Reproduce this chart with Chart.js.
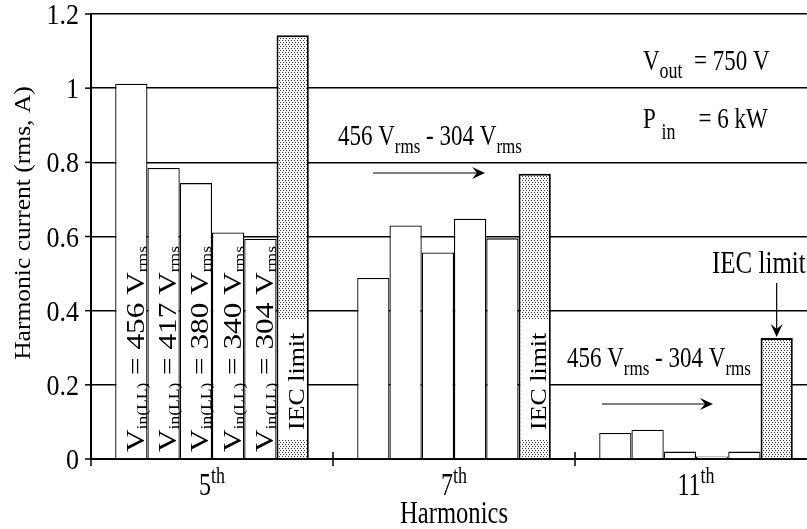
<!DOCTYPE html>
<html>
<head>
<meta charset="utf-8">
<style>
  html, body { margin: 0; padding: 0; background: #fff; overflow: hidden; }
  #wrap { width: 830px; height: 529px; }
</style>
<script src="https://cdn.jsdelivr.net/npm/chart.js@4.4.1/dist/chart.umd.min.js"></script>
</head>
<body>
<div id="wrap"><canvas id="chart" width="830" height="529"></canvas></div>
<script>
// harmonic order on the x axis
const categories = ['5th', '7th', '11th'];
// line-to-line input voltage of each white bar (V rms)
const inputVoltages = ['456', '417', '380', '340', '304'];
// measured harmonic current (rms, A), one array per input voltage
const v456 = [1.012, 0.488, 0.070];
const v417 = [0.785, 0.630, 0.079];
const v380 = [0.744, 0.557, 0.020];
const v340 = [0.611, 0.648, 0.007];
const v304 = [0.594, 0.595, 0.020];
const iecLimit = [1.143, 0.769, 0.326];
const yTicks = [0, 0.2, 0.4, 0.6, 0.8, 1, 1.2];
const yTickLabels = ['0', '0.2', '0.4', '0.6', '0.8', '1', '1.2'];

const seriesValues = [v456, v417, v380, v340, v304];
const SERIF = '"Liberation Serif", "Times New Roman", serif';

function font(px) {
    return px + 'px ' + SERIF;
}

// stipple fill used by the IEC limit bars
function makeDots() {
    const c = document.createElement('canvas');
    c.width = 3; c.height = 4;
    const g = c.getContext('2d');
    g.fillStyle = '#f8f8f8';
    g.fillRect(0, 0, 3, 4);
    g.fillStyle = '#3a3a3a';
    g.fillRect(0, 0, 1, 1);
    g.fillRect(1, 2, 1, 1);
    return g.createPattern(c, 'repeat');
}

// text built from runs: [text, '' | 'sub' | 'sup']; stretched vertically like the scan
function richText(ctx, runs, x, y, o) {
    const size = o.size, small = o.small || Math.round(size * 0.65);
    ctx.save();
    ctx.translate(x, y);
    ctx.scale(1, o.stretch || 1.25);
    if (o.rotate) ctx.rotate(-Math.PI / 2);
    ctx.fillStyle = '#000';
    ctx.textBaseline = 'alphabetic';
    ctx.textAlign = 'left';
    let total = 0;
    const widths = runs.map(r => {
        ctx.font = font(r[1] ? small : size);
        const w = ctx.measureText(r[0]).width;
        total += w;
        return w;
    });
    let cx = o.align === 'center' ? -total / 2 : o.align === 'right' ? -total : 0;
    runs.forEach((r, i) => {
        ctx.font = font(r[1] ? small : size);
        let dy = 0;
        if (r[1] === 'sub') dy = o.subShift !== undefined ? o.subShift : size * 0.28;
        if (r[1] === 'sup') dy = -(o.supShift !== undefined ? o.supShift : size * 0.4);
        ctx.fillText(r[0], cx, dy);
        cx += widths[i];
    });
    ctx.restore();
}

function arrow(ctx, x1, y1, x2, y2) {
    const a = Math.atan2(y2 - y1, x2 - x1);
    ctx.save();
    ctx.strokeStyle = '#000';
    ctx.fillStyle = '#000';
    ctx.lineWidth = 1.2;
    ctx.beginPath();
    ctx.moveTo(x1, y1);
    ctx.lineTo(x2 - Math.cos(a) * 5, y2 - Math.sin(a) * 5);
    ctx.stroke();
    ctx.translate(x2, y2);
    ctx.rotate(a);
    ctx.beginPath();
    ctx.moveTo(0, 0);
    ctx.lineTo(-13, -6);
    ctx.lineTo(-8, 0);
    ctx.lineTo(-13, 6);
    ctx.closePath();
    ctx.fill();
    ctx.restore();
}

const textPlugin = {
    id: 'textPlugin',
    afterDraw(chart) {
        const { ctx, chartArea: area, scales: { x, y } } = chart;
        const y0 = y.getPixelForValue(0);
        ctx.save();
        ctx.strokeStyle = '#000';
        ctx.lineWidth = 1.5;

        // y tick marks + labels
        yTicks.forEach((v, i) => {
            const py = y.getPixelForValue(v);
            ctx.beginPath();
            ctx.moveTo(area.left - 6, py);
            ctx.lineTo(area.left, py);
            ctx.stroke();
            richText(ctx, [[yTickLabels[i], '']], area.left - 12, py + 10, { size: 26, stretch: 1.12, align: 'right' });
        });

        // x tick marks between categories
        ctx.beginPath();
        ctx.moveTo(area.left, y0);
        ctx.lineTo(area.left, y0 + 7);
        for (let i = 1; i < categories.length; i++) {
            const bx = (x.getPixelForValue(i - 1) + x.getPixelForValue(i)) / 2;
            ctx.moveTo(bx, y0 - 7);
            ctx.lineTo(bx, y0 + 7);
        }
        ctx.stroke();

        // category labels with superscript
        categories.forEach((c, i) => {
            const m = c.match(/^(\d+)(\D+)$/);
            richText(ctx, [[m[1], ''], [m[2], 'sup']], x.getPixelForValue(i), y0 + 36,
                { size: 24, small: 18, stretch: 1.3, align: 'center', supShift: 9 });
        });

        // axis titles
        richText(ctx, [['Harmonics', '']], (area.left + area.right) / 2, 523, { size: 24.6, stretch: 1.29, align: 'center' });
        richText(ctx, [['Harmonic current (rms, A)', '']], 30, 223, { size: 23, stretch: 1.11, rotate: true, align: 'center' });

        // rotated labels inside the 5th harmonic bars
        inputVoltages.forEach((v, d) => {
            const bar = chart.getDatasetMeta(d).data[0];
            richText(ctx, [['V', ''], ['in(LL)', 'sub'], [' = ' + v + ' V', ''], ['rms', 'sub']],
                bar.x + 12.5, y0 - 7, { size: 25, small: 14, stretch: 1.25, rotate: true, subShift: 3 });
        });
        const iecIdx = inputVoltages.length;
        [0, 1].forEach(i => {
            const bar = chart.getDatasetMeta(iecIdx).data[i];
            ctx.fillStyle = '#fff';
            ctx.fillRect(bar.x - bar.width / 2 + 2, 319, bar.width - 4, 121);
            richText(ctx, [['IEC limit', '']], bar.x + 11, 430, { size: 24, stretch: 1.08, rotate: true });
        });

        // operating point
        richText(ctx, [['V', ''], ['out', 'sub'], ['  = 750 V', '']], 643, 70, { size: 23, small: 18, stretch: 1.25, subShift: 6 });
        richText(ctx, [['P ', ''], ['in', 'sub'], ['    = 6 kW', '']], 643, 128, { size: 23, small: 18, stretch: 1.25, subShift: 9 });

        // voltage sweep notes
        const sweep = [['456 V', ''], ['rms', 'sub'], [' - 304 V', ''], ['rms', 'sub']];
        richText(ctx, sweep, 338, 145, { size: 23, small: 17, stretch: 1.25, subShift: 6 });
        arrow(ctx, 373, 173, 485, 173);
        richText(ctx, sweep, 567, 367, { size: 23, small: 17, stretch: 1.25, subShift: 6 });
        arrow(ctx, 602, 404, 713, 404);

        // IEC limit callout on the 11th harmonic
        const iec11 = chart.getDatasetMeta(iecIdx).data[2];
        richText(ctx, [['IEC limit', '']], 712, 273, { size: 25, stretch: 1.25 });
        arrow(ctx, iec11.x, 283, iec11.x, iec11.y - 1);
        ctx.restore();
    }
};

const dots = makeDots();
const datasets = seriesValues.map((vals, i) => ({
    label: 'Vin(LL) = ' + inputVoltages[i] + ' Vrms',
    data: vals,
    backgroundColor: '#fff',
    borderColor: '#000',
    borderWidth: 1.3,
    borderSkipped: 'bottom'
}));
datasets.push({
    label: 'IEC limit',
    data: iecLimit,
    backgroundColor: dots,
    borderColor: '#000',
    borderWidth: 2,
    borderSkipped: 'bottom'
});

new Chart(document.getElementById('chart'), {
    type: 'bar',
    data: { labels: categories, datasets: datasets },
    options: {
        responsive: false,
        animation: false,
        layout: { padding: { left: 91, right: 13, top: 14, bottom: 70 } },
        datasets: { bar: { categoryPercentage: 0.8, barPercentage: 1.0 } },
        plugins: { legend: { display: false }, tooltip: { enabled: false } },
        scales: {
            x: {
                ticks: { display: false },
                grid: { display: false, drawTicks: false },
                border: { display: true, color: '#000', width: 2 },
                afterFit: s => { s.height = 0; }
            },
            y: {
                min: 0,
                max: 1.2,
                ticks: { display: false, stepSize: 0.2 },
                grid: { color: '#000', lineWidth: 1.5, drawTicks: false },
                border: { display: true, color: '#000', width: 2 },
                afterFit: s => { s.width = 0; }
            }
        }
    },
    plugins: [textPlugin]
});
</script>
</body>
</html>
